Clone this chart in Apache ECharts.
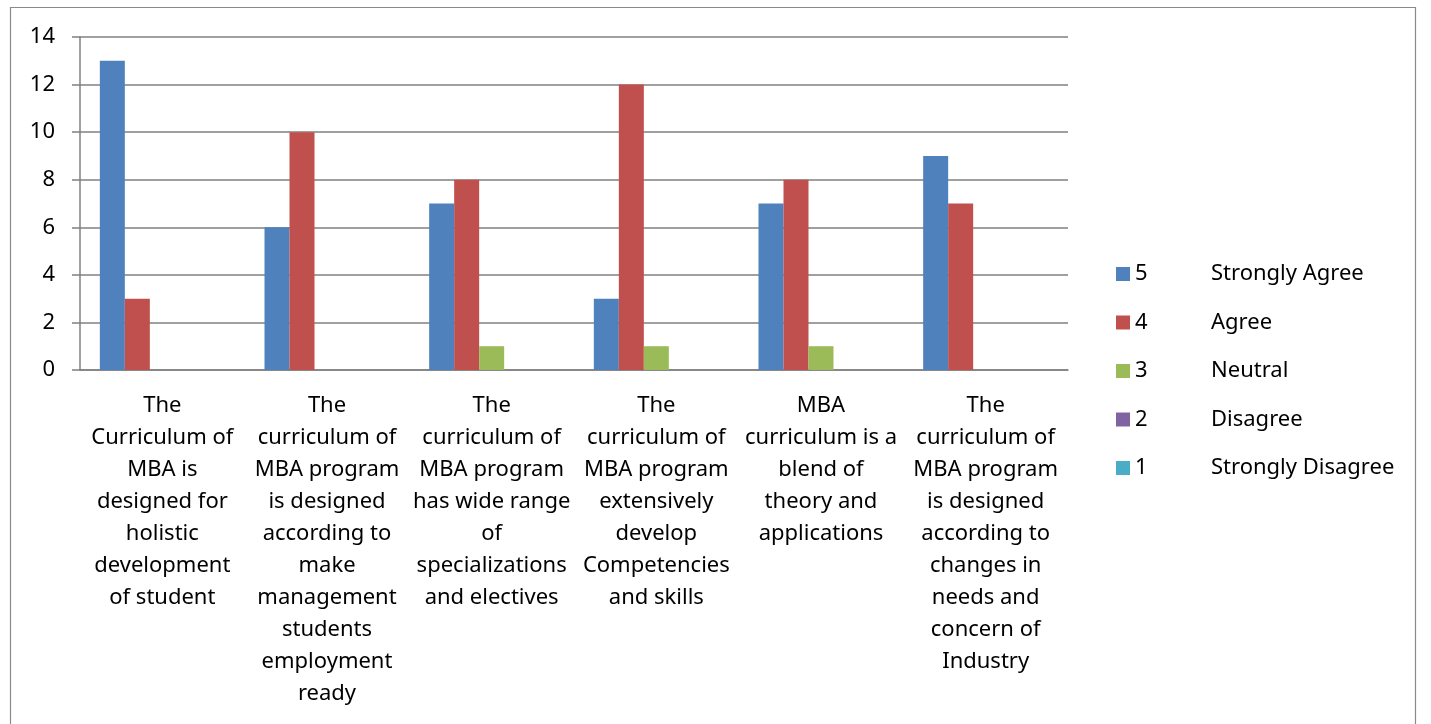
<!DOCTYPE html>
<html>
<head>
<meta charset="utf-8">
<script src="https://cdn.jsdelivr.net/npm/echarts@6/dist/echarts.min.js"></script>
<style>
    html, body { margin: 0; padding: 0; background: #fff; }
    #chart { width: 1431px; height: 724px; }
</style>
</head>
<body>
<div id="chart"></div>
<script>
// categories (statements), wrapped as in the reference
const categories = [
    'The\nCurriculum of\nMBA is\ndesigned for\nholistic\ndevelopment\nof student',
    'The\ncurriculum of\nMBA program\nis designed\naccording to\nmake\nmanagement\nstudents\nemployment\nready',
    'The\ncurriculum of\nMBA program\nhas wide range\nof\nspecializations\nand electives',
    'The\ncurriculum of\nMBA program\nextensively\ndevelop\nCompetencies\nand skills',
    'MBA\ncurriculum is a\nblend of\ntheory and\napplications',
    'The\ncurriculum of\nMBA program\nis designed\naccording to\nchanges in\nneeds and\nconcern of\nIndustry'
];

const scoreNames = ['5', '4', '3', '2', '1'];
const scoreLabels = ['Strongly Agree', 'Agree', 'Neutral', 'Disagree', 'Strongly Disagree'];

const strongAgree = [13, 6, 7, 3, 7, 9];
const agree = [3, 10, 8, 12, 8, 7];
const neutral = [0, 0, 1, 1, 1, 0];
const disagree = [0, 0, 0, 0, 0, 0];
const strongDisagree = [0, 0, 0, 0, 0, 0];

const yTicks = [0, 2, 4, 6, 8, 10, 12, 14];

const colors = ['#4F81BD', '#C0504D', '#9BBB59', '#8064A2', '#4BACC6'];
const seriesValues = [strongAgree, agree, neutral, disagree, strongDisagree];

let myChart = echarts.init(document.getElementById('chart'));

myChart.setOption({
    animation: false,
    textStyle: { fontFamily: 'Noto Sans' },
    graphic: [{
        type: 'rect',
        shape: { x: 10.5, y: 7.5, width: 1405, height: 730 },
        style: { fill: 'none', stroke: '#8a8a8a', lineWidth: 1.2 }
    }],
    grid: { left: 80, right: 363, top: 37, bottom: 354 },
    legend: {
        orient: 'vertical',
        left: 1111,
        top: 258,
        itemWidth: 14,
        itemHeight: 14,
        itemGap: 26.5,
        icon: 'rect',
        data: scoreNames,
        formatter: function (name) {
            let i = scoreNames.indexOf(name);
            return '{n|' + name + '}{l|' + scoreLabels[i] + '}';
        },
        textStyle: {
            rich: {
                n: { fontSize: 22, lineHeight: 22, width: 76, color: '#000', fontFamily: 'Noto Sans' },
                l: { fontSize: 22, lineHeight: 22, color: '#000', fontFamily: 'Noto Sans' }
            }
        }
    },
    xAxis: {
        type: 'category',
        data: categories,
        axisLine: { lineStyle: { color: '#808080', width: 1.5 } },
        axisTick: { length: 8, lineStyle: { color: '#808080', width: 1.5 } },
        axisLabel: {
            interval: 0,
            margin: 20,
            fontSize: 22,
            lineHeight: 32,
            color: '#000',
            align: 'center'
        }
    },
    yAxis: {
        type: 'value',
        min: yTicks[0],
        max: yTicks[yTicks.length - 1],
        interval: 2,
        axisLine: { show: true, lineStyle: { color: '#808080', width: 1.5 } },
        axisTick: { show: true, length: 8, lineStyle: { color: '#808080', width: 1.5 } },
        splitLine: { lineStyle: { color: '#808080', width: 1.5 } },
        axisLabel: { fontSize: 22, color: '#000', margin: 25 }
    },
    series: scoreNames.map(function (n, i) {
        return {
            name: n,
            type: 'bar',
            data: seriesValues[i],
            barWidth: 25,
            barGap: '0%',
            itemStyle: { color: colors[i] }
        };
    })
});
</script>
</body>
</html>
